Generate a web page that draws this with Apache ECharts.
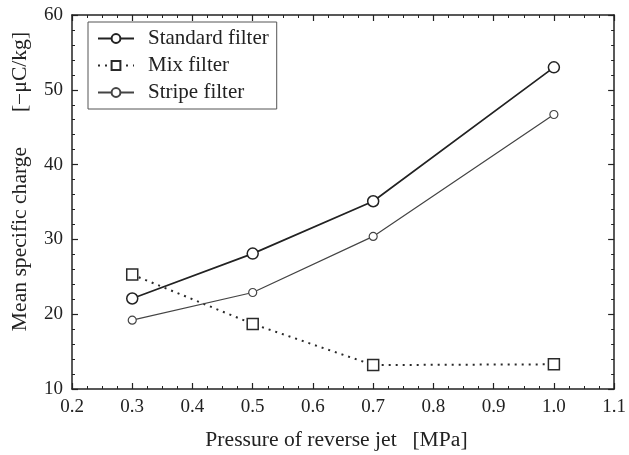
<!DOCTYPE html>
<html>
<head>
<meta charset="utf-8">
<script src="https://cdn.jsdelivr.net/npm/echarts@6/dist/echarts.min.js"></script>
<style>
  html, body { margin: 0; padding: 0; background: #fff; }
  #chart { width: 629px; height: 455px; }
</style>
</head>
<body>
<div id="chart"></div>
<script>
// Reverse-jet pressure [MPa] at which each filter was measured
const pressures = [0.3, 0.5, 0.7, 1.0];
// Mean specific charge [-μC/kg]
const standardFilter = [22.1, 28.1, 35.1, 53.0];
const mixFilter = [25.3, 18.7, 13.2, 13.3];
const stripeFilter = [19.2, 22.9, 30.4, 46.7];

const seriesNames = ['Standard filter', 'Mix filter', 'Stripe filter'];
const xAxisTitle = 'Pressure of reverse jet';
const xAxisUnit = '[MPa]';
const yAxisTitle = 'Mean specific charge';
const yAxisUnit = '[\u2212\u03bcC/kg]';

const FONT = '"Liberation Serif", "Times New Roman", serif';
const INK = '#222';
// slightly widened serif lettering for the axis titles
const TITLE_STRETCH = 1.08;

const pairs = (ys) => pressures.map((x, i) => [x, ys[i]]);

const chart = echarts.init(document.getElementById('chart'), null, { renderer: 'canvas' });

const frameAxis = (extra) => Object.assign({
  axisLine: { show: true, onZero: false, lineStyle: { color: INK, width: 1.5 } },
  axisTick: { show: true, inside: true, length: 6, lineStyle: { color: INK, width: 1.2 } },
  splitLine: { show: false },
  minorSplitLine: { show: false }
}, extra);

const minorTicks = (n) => ({ show: true, splitNumber: n, length: 3, lineStyle: { color: INK, width: 1 } });

const titleText = (text, x, y, rotated) => ({
  type: 'text', x, y,
  rotation: rotated ? Math.PI / 2 : 0,
  scaleX: TITLE_STRETCH,
  style: {
    text, fontFamily: FONT, fontSize: 20, fill: INK,
    align: 'center', verticalAlign: 'middle'
  }
});

chart.setOption({
  animation: false,
  backgroundColor: '#fff',
  grid: { left: 72, right: 12, top: 15, bottom: 66, containLabel: false },
  legend: {
    orient: 'vertical',
    left: 88,
    top: 22,
    padding: [6, 8, 6, 9],
    itemGap: 6,
    itemWidth: 36,
    itemHeight: 11,
    borderColor: '#555',
    borderWidth: 1,
    data: seriesNames,
    textStyle: { fontFamily: FONT, fontSize: 21, color: INK, padding: [0, 0, 0, 9] }
  },
  xAxis: [
    frameAxis({
      type: 'value', min: 0.2, max: 1.1, interval: 0.1,
      minorTick: minorTicks(4),
      axisLabel: {
        margin: 9, color: INK, fontFamily: FONT, fontSize: 19,
        formatter: (v) => v.toFixed(1)
      }
    }),
    frameAxis({
      type: 'value', position: 'top', min: 0.2, max: 1.1, interval: 0.1,
      minorTick: minorTicks(4),
      axisLabel: { show: false }
    })
  ],
  yAxis: [
    frameAxis({
      type: 'value', min: 10, max: 60, interval: 10,
      minorTick: minorTicks(5),
      axisLabel: { margin: 9, color: INK, fontFamily: FONT, fontSize: 19 }
    }),
    frameAxis({
      type: 'value', position: 'right', min: 10, max: 60, interval: 10,
      minorTick: minorTicks(5),
      axisLabel: { show: false }
    })
  ],
  series: [
    {
      name: seriesNames[0], type: 'line', data: pairs(standardFilter),
      symbol: 'circle', symbolSize: 11,
      lineStyle: { color: '#222', width: 1.7 },
      itemStyle: { color: '#fff', borderColor: '#222', borderWidth: 1.5 }
    },
    {
      name: seriesNames[1], type: 'line', data: pairs(mixFilter),
      symbol: 'rect', symbolSize: 11,
      lineStyle: { color: '#2a2a2a', width: 2, type: [2, 5] },
      itemStyle: { color: '#fff', borderColor: '#2a2a2a', borderWidth: 1.5 }
    },
    {
      name: seriesNames[2], type: 'line', data: pairs(stripeFilter),
      symbol: 'circle', symbolSize: 8,
      lineStyle: { color: '#444', width: 1.2 },
      itemStyle: { color: '#fff', borderColor: '#444', borderWidth: 1.2 }
    }
  ],
  graphic: [
    titleText(xAxisTitle, 301, 441, false),
    titleText(xAxisUnit, 440, 441, false),
    titleText(yAxisTitle, 21, 239, true),
    titleText(yAxisUnit, 21, 72, true)
  ]
});
</script>
</body>
</html>
